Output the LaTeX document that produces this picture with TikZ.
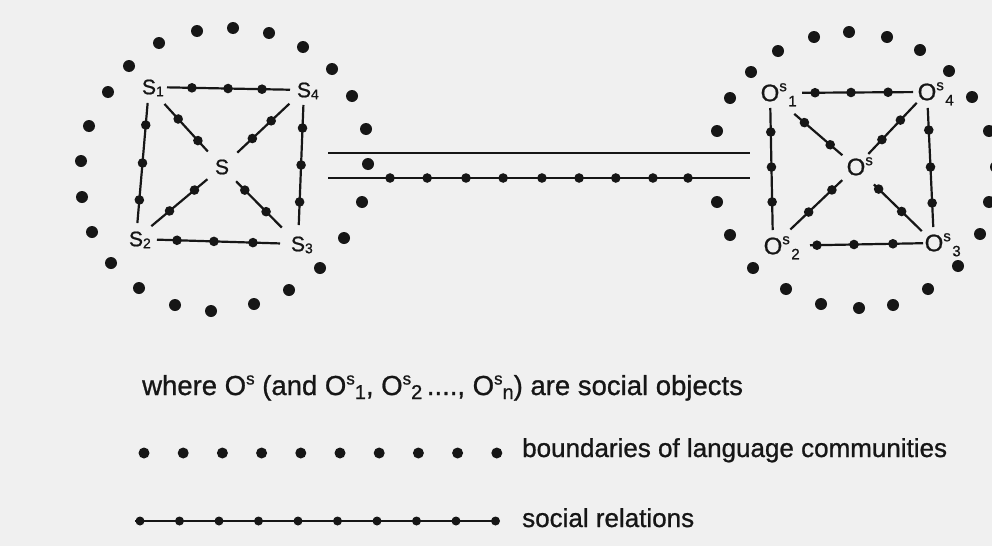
\documentclass[tikz,border=0pt]{standalone}
\usepackage{fontspec}
\setmainfont{Liberation Sans}[FakeBold=0.9]
\usetikzlibrary{decorations.markings}
\definecolor{paper}{RGB}{240,240,240}
\definecolor{ink}{RGB}{22,22,22}
\newcommand\ssubx[1]{\raisebox{-2pt}{\fontsize{14}{14}\selectfont #1}}
\newcommand\osupx[1]{\raisebox{10pt}{\fontsize{15}{15}\selectfont #1}}
\newcommand\osubx[1]{\raisebox{-5pt}{\fontsize{15}{15}\selectfont\kern1.5pt #1}}
\newcommand\lsupx[1]{\raisebox{10.5pt}{\fontsize{17}{17}\selectfont #1}}
\newcommand\lsubx[1]{\raisebox{-4pt}{\fontsize{20}{20}\selectfont #1}}
\begin{document}
\begin{tikzpicture}[x=1pt,y=-1pt,
  slab/.style={font=\fontsize{21}{21}\selectfont, inner sep=0pt, text=ink},
  olab/.style={font=\fontsize{24}{24}\selectfont, inner sep=0pt, text=ink},
  rel/.style={line width=2.2pt, draw=ink},
  dotsat/.style={postaction={decorate,decoration={markings,
     mark=at position #1 with {\fill[ink] (0,0) circle (4.8pt);}}}},
  legend/.style={font=\fontsize{26}{26}\selectfont, anchor=base west, inner sep=0pt, text=ink}]
\useasboundingbox (0,0) rectangle (992,546);
\fill[paper] (0,0) rectangle (992,546);
\clip (0,0) rectangle (992,546);

% ---------- left community ----------
\foreach \p in {(233,28),(269,33),(303,47),(332,69),(352,96),(366,129),(368,164),
  (362,202),(344,238),(320,268),(289,290),(254,304),(211,311),(175,305),(139,288),
  (111,263),(92,232),(82,197),(81,161),(89,126),(108,92),(129,66),(159,43),(197,31)}
  \fill[ink] \p circle (6pt);

\node[slab] (s1) at (149,87) {S\rlap{\smash{\ssubx{1}}}};
\node[slab] (s4) at (304,90) {S\rlap{\smash{\ssubx{4}}}};
\node[slab] (s2) at (136,239) {S\rlap{\smash{\ssubx{2}}}};
\node[slab] (s3) at (298,244) {S\rlap{\smash{\ssubx{3}}}};
\node[slab] (s) at (222,167) {S};

\draw[rel, shorten <=18pt, shorten >=14pt, dotsat/.list={0.277,0.51,0.729}] (s1.center) -- (s4.center);
\draw[rel, shorten <=16pt, shorten >=16pt, dotsat/.list={0.25,0.5,0.743}] (s1.center) -- (s2.center);
\draw[rel, shorten <=15pt, shorten >=19pt, dotsat/.list={0.247,0.487,0.727}] (s4.center) -- (s3.center);
\draw[rel, shorten <=21pt, shorten >=18pt, dotsat/.list={0.253,0.481,0.722}] (s2.center) -- (s3.center);
\draw[rel, shorten <=23pt, shorten >=21pt, dotsat/.list={0.40,0.67}] (s1.center) -- (s.center);
\draw[rel, shorten <=20pt, shorten >=21pt, dotsat/.list={0.40,0.63}] (s4.center) -- (s.center);
\draw[rel, shorten <=20pt, shorten >=19pt, dotsat/.list={0.39,0.68}] (s2.center) -- (s.center);
\draw[rel, shorten <=23pt, shorten >=20pt, dotsat/.list={0.42,0.70}] (s3.center) -- (s.center);

% ---------- right community ----------
\foreach \p in {(814,37),(849,32),(887,37),(920,50),(949,71),(972,97),(989,131),(996,167),
  (989,202),(980,234),(958,266),(928,289),(893,305),(859,308),(821,304),(786,289),
  (753,268),(730,235),(717,202),(717,131),(730,98),(751,72),(778,51)}
  \fill[ink] \p circle (6pt);

\node[olab] (o1) at (770,93) {O\rlap{\smash{\osupx{s}\osubx{1}}}};
\node[olab] (o4) at (927,92) {O\rlap{\smash{\osupx{s}\osubx{4}}}};
\node[olab] (o2) at (773,246) {O\rlap{\smash{\osupx{s}\osubx{2}}}};
\node[olab] (o3) at (934,243) {O\rlap{\smash{\osupx{s}\osubx{3}}}};
\node[olab] (o) at (856,167) {O\rlap{\smash{\osupx{s}}}};

\draw[rel, shorten <=32pt, shorten >=14pt, dotsat/.list={0.287,0.516,0.752}] (o1.center) -- (o4.center);
\draw[rel, shorten <=15pt, shorten >=16pt, dotsat/.list={0.255,0.484,0.712}] (o1.center) -- (o2.center);
\draw[rel, shorten <=16pt, shorten >=16pt, dotsat/.list={0.252,0.497,0.735}] (o4.center) -- (o3.center);
\draw[rel, shorten <=37pt, shorten >=11pt, dotsat/.list={0.273,0.503,0.745}] (o2.center) -- (o3.center);
\draw[rel, shorten <=32pt, shorten >=18pt, dotsat/.list={0.40,0.70}] (o1.center) -- (o.center);
\draw[rel, shorten <=15pt, shorten >=18pt, dotsat/.list={0.375,0.635}] (o4.center) -- (o.center);
\draw[rel, shorten <=24pt, shorten >=19pt, dotsat/.list={0.43,0.71}] (o2.center) -- (o.center);
\draw[rel, shorten <=17pt, shorten >=25pt, dotsat/.list={0.415,0.71}] (o3.center) -- (o.center);

% ---------- link between communities ----------
\coordinate (ta) at (328,153);
\coordinate (tb) at (750,153);
\coordinate (ba) at (328,178);
\coordinate (bb) at (750,178);
\draw[rel] (ta) -- (tb);
\draw[rel, dotsat/.list={0.147,0.235,0.327,0.415,0.507,0.595,0.682,0.770,0.853}] (ba) -- (bb);

% ---------- legend ----------
\node[legend, font=\fontsize{27.5}{27.5}\selectfont] (where) at (142,395) {where O\lsupx{s} (and O\lsupx{s}\lsubx{1}, O\lsupx{s}\lsubx{2}\,...., O\lsupx{s}\lsubx{n}) are social objects};

\foreach \k in {0,...,9} \fill[ink] ({144+39.2*\k},453) circle (5.5pt);
\node[legend] (bound) at (522,457) {boundaries of language communities};

\coordinate (ra) at (135,521);
\coordinate (rb) at (496,521);
\draw[line width=2pt, draw=ink] (ra) -- (rb);
\foreach \k in {0,...,9} \fill[ink] ({140+39.5*\k},521) circle (4.5pt);
\node[legend] (socrel) at (522,527) {social relations};
\end{tikzpicture}
\end{document}
